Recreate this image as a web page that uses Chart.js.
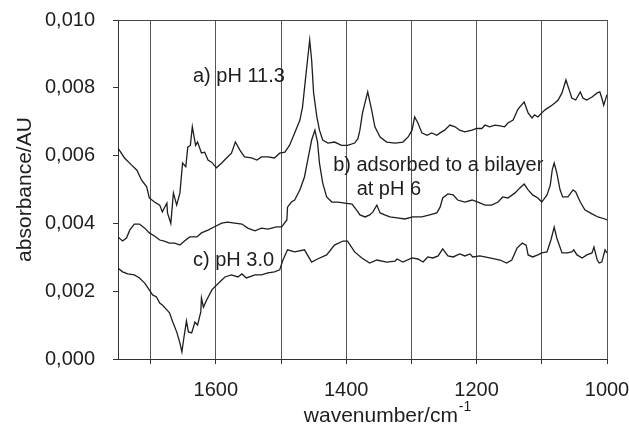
<!DOCTYPE html>
<html>
<head>
<meta charset="utf-8">
<script src="https://cdn.jsdelivr.net/npm/chart.js@4.4.1/dist/chart.umd.min.js"></script>
<style>
  html, body { margin: 0; padding: 0; background: #fff; }
  #wrap { width: 629px; height: 429px; }
</style>
</head>
<body>
<div id="wrap"><canvas id="myChart" width="629" height="429"></canvas></div>
<script>
// spectrum a) pH 11.3
const wnA = [1750, 1740, 1729, 1721, 1714, 1706, 1702, 1694, 1686, 1682, 1675, 1674, 1669, 1665, 1660, 1655, 1651, 1646, 1643, 1639,
  1636, 1631, 1628, 1622, 1617, 1612, 1606, 1599, 1591, 1582, 1576, 1570, 1563, 1556, 1545, 1537, 1530, 1520, 1510, 1502,
  1494, 1487, 1479, 1471, 1467, 1461, 1456, 1453, 1450, 1445, 1441, 1436, 1428, 1418, 1407, 1398, 1387, 1382, 1379, 1375,
  1367, 1361, 1356, 1348, 1338, 1325, 1313, 1305, 1299, 1295, 1290, 1284, 1276, 1269, 1261, 1256, 1249, 1241, 1233, 1226,
  1218, 1207, 1200, 1192, 1187, 1180, 1172, 1164, 1157, 1152, 1144, 1137, 1134, 1127, 1121, 1115, 1111, 1106, 1100, 1095,
  1091, 1084, 1080, 1075, 1069, 1063, 1058, 1054, 1048, 1041, 1037, 1031, 1023, 1015, 1011, 1008, 1005, 1000];
const absA = [0.00622, 0.00593, 0.00572, 0.00557, 0.00528, 0.00508, 0.00475, 0.00463, 0.00454, 0.00434, 0.0046, 0.0043, 0.0040, 0.0049, 0.00454, 0.0049, 0.00578, 0.00567, 0.00625, 0.0063,
  0.00685, 0.0063, 0.0064, 0.00608, 0.0061, 0.00587, 0.0058, 0.00564, 0.00578, 0.00596, 0.00607, 0.0064, 0.00616, 0.00596, 0.00593, 0.00587, 0.00596, 0.00596, 0.00593, 0.00607,
  0.0061, 0.0063, 0.00667, 0.00705, 0.00743, 0.00852, 0.00941, 0.00882, 0.00785, 0.00714, 0.00675, 0.00646, 0.00637, 0.0064, 0.0063, 0.0063, 0.00637, 0.0065, 0.00675, 0.00726,
  0.00788, 0.00735, 0.00685, 0.00655, 0.0064, 0.00637, 0.0064, 0.00655, 0.00675, 0.00714, 0.00696, 0.00667, 0.0066, 0.00667, 0.0066, 0.00667, 0.00675, 0.0069, 0.00685, 0.00675,
  0.0067, 0.00675, 0.0068, 0.0068, 0.0069, 0.00685, 0.0069, 0.00688, 0.00685, 0.00696, 0.00705, 0.00735, 0.00743, 0.00758, 0.00726, 0.00711, 0.0072, 0.00714, 0.00726, 0.00735,
  0.0074, 0.00749, 0.00755, 0.00764, 0.00785, 0.00823, 0.00794, 0.0077, 0.00764, 0.00788, 0.0077, 0.00764, 0.00773, 0.00785, 0.00788, 0.0077, 0.00749, 0.0078];

// spectrum b) adsorbed to a bilayer at pH 6
const wnB = [1750, 1743, 1737, 1732, 1725, 1717, 1709, 1702, 1694, 1686, 1679, 1671, 1663, 1655, 1648, 1640, 1629, 1622, 1612, 1602,
  1591, 1582, 1571, 1560, 1551, 1540, 1530, 1520, 1507, 1499, 1491, 1490, 1484, 1479, 1471, 1464, 1459, 1453, 1448, 1444,
  1441, 1436, 1430, 1422, 1413, 1402, 1391, 1382, 1379, 1371, 1364, 1359, 1353, 1348, 1341, 1333, 1322, 1310, 1298, 1284,
  1272, 1261, 1256, 1252, 1244, 1236, 1229, 1218, 1207, 1198, 1187, 1177, 1167, 1160, 1152, 1141, 1134, 1127, 1121, 1114,
  1106, 1100, 1092, 1087, 1084, 1081, 1077, 1072, 1068, 1060, 1052, 1048, 1041, 1034, 1023, 1014, 1003, 1000];
const absB = [0.0036, 0.00348, 0.00357, 0.0038, 0.00398, 0.00398, 0.00386, 0.00372, 0.00363, 0.00351, 0.00348, 0.00342, 0.00342, 0.00336, 0.00348, 0.0036, 0.0036, 0.00372, 0.0038, 0.0039,
  0.00401, 0.00404, 0.00401, 0.00398, 0.00386, 0.00378, 0.00386, 0.00383, 0.0039, 0.0039, 0.0041, 0.00448, 0.00463, 0.00469, 0.00499, 0.00537, 0.00587, 0.00646, 0.00675, 0.0064,
  0.00578, 0.00519, 0.00478, 0.00463, 0.00463, 0.0046, 0.00457, 0.00434, 0.00425, 0.00419, 0.00425, 0.00434, 0.00454, 0.00431, 0.00425, 0.00419, 0.00416, 0.00413, 0.00419, 0.00419,
  0.00425, 0.00431, 0.00448, 0.00475, 0.00487, 0.00484, 0.00469, 0.00463, 0.00469, 0.00463, 0.00454, 0.00454, 0.00463, 0.00478, 0.00475, 0.0049, 0.00504, 0.00516, 0.00499, 0.00484,
  0.00475, 0.00463, 0.00484, 0.00513, 0.00558, 0.00578, 0.00549, 0.00499, 0.00478, 0.00478, 0.00499, 0.00493, 0.00463, 0.0044, 0.00428, 0.00419, 0.00413, 0.0041];

// spectrum c) pH 3.0
const wnC = [1750, 1743, 1735, 1725, 1717, 1709, 1702, 1697, 1691, 1686, 1682, 1675, 1671, 1666, 1660, 1655, 1652, 1649, 1645, 1642,
  1637, 1632, 1628, 1623, 1622, 1619, 1614, 1606, 1602, 1594, 1586, 1576, 1566, 1560, 1553, 1540, 1530, 1520, 1510, 1502,
  1497, 1490, 1479, 1464, 1453, 1444, 1430, 1418, 1405, 1398, 1387, 1376, 1364, 1353, 1338, 1325, 1322, 1313, 1299, 1290,
  1282, 1275, 1267, 1259, 1252, 1244, 1236, 1226, 1218, 1210, 1206, 1195, 1180, 1164, 1154, 1146, 1138, 1130, 1124, 1121,
  1114, 1106, 1100, 1092, 1086, 1081, 1077, 1069, 1061, 1054, 1051, 1046, 1038, 1031, 1023, 1020, 1015, 1012, 1008, 1003, 1000];
const absC = [0.00268, 0.00257, 0.00251, 0.00248, 0.00239, 0.00224, 0.00204, 0.00189, 0.00183, 0.00165, 0.00159, 0.00145, 0.00136, 0.00109, 0.0008, 0.00047, 0.00021, 0.00062, 0.00112, 0.0008,
  0.00077, 0.00109, 0.001, 0.00139, 0.0018, 0.00153, 0.00174, 0.00204, 0.00212, 0.00227, 0.00242, 0.00248, 0.00242, 0.00251, 0.00239, 0.00248, 0.00248, 0.00254, 0.00257, 0.00263,
  0.00292, 0.00322, 0.00316, 0.00322, 0.00286, 0.00295, 0.00307, 0.00336, 0.00348, 0.00348, 0.00316, 0.00298, 0.00283, 0.00292, 0.00286, 0.00289, 0.00295, 0.00286, 0.00298, 0.00295,
  0.00286, 0.00301, 0.00298, 0.00304, 0.00325, 0.00304, 0.00301, 0.0031, 0.00304, 0.0031, 0.00301, 0.00304, 0.00298, 0.00292, 0.00283, 0.00292, 0.00327, 0.00342, 0.00336, 0.00307,
  0.00301, 0.00307, 0.00313, 0.00316, 0.00351, 0.00389, 0.00357, 0.00313, 0.00313, 0.00316, 0.00322, 0.00307, 0.00298, 0.00307, 0.00313, 0.0033, 0.00292, 0.00283, 0.00286, 0.00322, 0.00313];

const xLabels = [1600, 1400, 1200, 1000];
const yTicks = [0, 0.002, 0.004, 0.006, 0.008, 0.010];

const notes = [
  { text: 'a) pH 11.3', x: 1635, y: 0.00818 },
  { text: 'b) adsorbed to a bilayer', x: 1420, y: 0.00556 },
  { text: 'at pH 6', x: 1384, y: 0.00485 },
  { text: 'c) pH 3.0', x: 1635, y: 0.00275 }
];

const FONT = 'Arial, "Liberation Sans", sans-serif';
const INK = '#1e1e1e';

function toPoints(xs, ys) {
  return xs.map((x, i) => ({ x: x, y: ys[i] }));
}

function fmtComma(v) {
  return v.toFixed(3).replace('.', ',');
}

// axis titles + curve labels drawn straight onto the canvas
const textPlugin = {
  id: 'textPlugin',
  afterDraw(chart) {
    const ctx = chart.ctx;
    const xs = chart.scales.x, ys = chart.scales.y;
    ctx.save();
    ctx.fillStyle = INK;
    ctx.textBaseline = 'alphabetic';
    ctx.textAlign = 'left';
    ctx.font = '20px ' + FONT;
    notes.forEach(n => {
      ctx.fillText(n.text, xs.getPixelForValue(n.x), ys.getPixelForValue(n.y));
    });

    // x title with superscript
    ctx.font = '21px ' + FONT;
    const main = 'wavenumber/cm';
    const w = ctx.measureText(main).width;
    const x0 = xs.getPixelForValue(1465);
    ctx.fillText(main, x0, 422);
    ctx.font = '14px ' + FONT;
    ctx.fillText('-1', x0 + w + 1, 411);

    // y title
    ctx.translate(31, (chart.chartArea.top + chart.chartArea.bottom) / 2);
    ctx.rotate(-Math.PI / 2);
    ctx.textAlign = 'center';
    ctx.font = '21px ' + FONT;
    ctx.fillText('absorbance/AU', 0, 0);
    ctx.restore();
  }
};

const ctx = document.getElementById('myChart').getContext('2d');
const lineStyle = { borderColor: INK, borderWidth: 1.3, pointRadius: 0, fill: false, tension: 0 };

new Chart(ctx, {
  type: 'line',
  data: {
    datasets: [
      Object.assign({ label: 'a) pH 11.3', data: toPoints(wnA, absA) }, lineStyle),
      Object.assign({ label: 'b) adsorbed to a bilayer at pH 6', data: toPoints(wnB, absB) }, lineStyle),
      Object.assign({ label: 'c) pH 3.0', data: toPoints(wnC, absC) }, lineStyle)
    ]
  },
  options: {
    responsive: false,
    animation: false,
    layout: { padding: { top: 20, right: 22, bottom: 0, left: 0 } },
    plugins: {
      legend: { display: false },
      tooltip: { enabled: false }
    },
    scales: {
      x: {
        type: 'linear',
        reverse: true,
        min: 1000,
        max: 1750,
        afterFit: s => { s.height = 70; s.paddingLeft = 0; s.paddingRight = 0; },
        border: { color: '#333', width: 1 },
        grid: { color: '#555', tickColor: '#333', tickLength: 5, lineWidth: 1 },
        ticks: {
          stepSize: 100,
          includeBounds: false,
          maxRotation: 0,
          autoSkip: false,
          padding: 14,
          color: INK,
          font: { size: 20, family: FONT },
          callback: v => xLabels.includes(v) ? String(v) : ''
        }
      },
      y: {
        min: 0,
        max: 0.010,
        afterFit: s => { s.width = 118; s.paddingTop = 0; s.paddingBottom = 0; },
        afterBuildTicks: s => { s.ticks = yTicks.map(v => ({ value: v })); },
        border: { color: '#333', width: 1 },
        grid: {
          color: c => (c.tick && c.tick.value === 0.010) ? '#444' : 'rgba(0,0,0,0)',
          tickColor: '#333',
          tickLength: 5
        },
        ticks: {
          padding: 18,
          color: INK,
          font: { size: 20, family: FONT },
          callback: v => fmtComma(v)
        }
      }
    }
  },
  plugins: [textPlugin]
});
</script>
</body>
</html>
